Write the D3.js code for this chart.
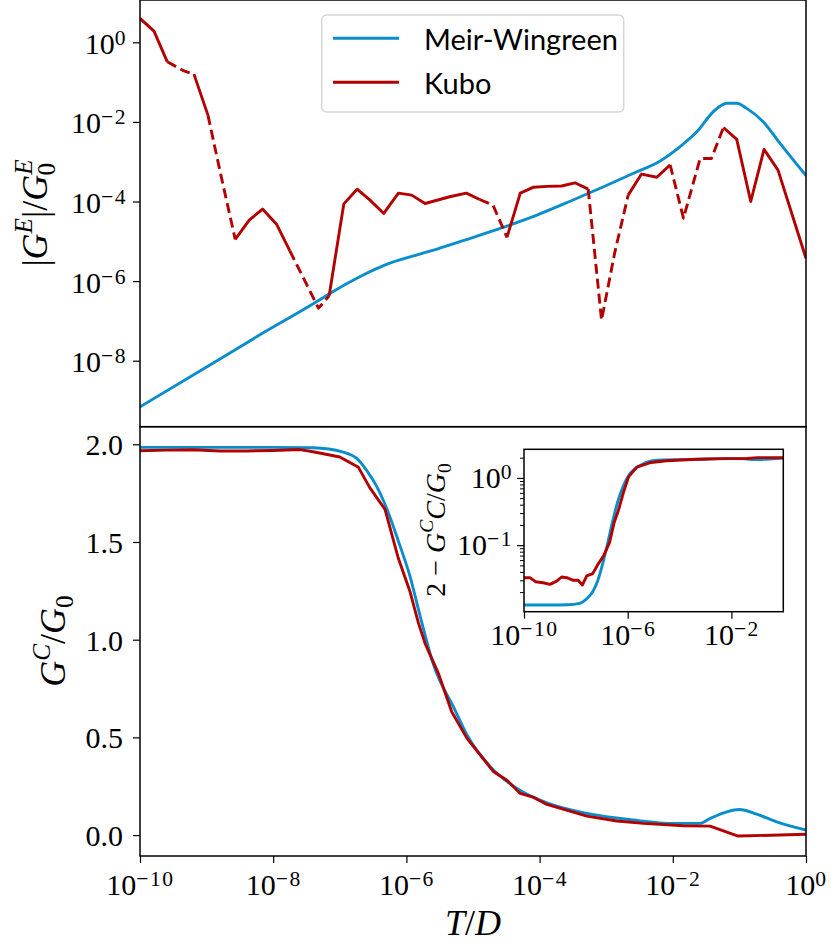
<!DOCTYPE html>
<html>
<head>
<meta charset="utf-8">
<script src="https://cdn.jsdelivr.net/npm/d3@7"></script>
<style>
  body { margin: 0; background: #fff; }
  text { font-family: "Liberation Serif", serif; fill: #000; }
</style>
</head>
<body>
<svg id="display"></svg>
<script>
/*
 *  Data
 */
// top panel: Meir-Wingreen |G^E|/G0^E  (log10 T/D, log10 value)
var mwTopLogT  = [-10, -9.0, -8.2, -7.35, -7.15, -6.7, -6.25, -5.8, -5.55, -5.05, -4.55, -4.04, -3.55, -3.04,
                  -2.59, -2.19, -1.89, -1.64, -1.39, -1.19, -1.04, -0.89, -0.64, -0.39, 0];
var mwTopLogGE = [-9.16, -8.16, -7.35, -6.52, -6.31, -5.89, -5.55, -5.32, -5.2, -4.93, -4.65, -4.34, -4.0, -3.63,
                  -3.29, -2.98, -2.62, -2.25, -1.74, -1.53, -1.53, -1.66, -2.0, -2.54, -3.35];

// top panel: Kubo |G^E|/G0^E, sign of G^E (negative parts are drawn dashed)
var kuboTopLogT  = [-10, -9.79, -9.59, -9.34, -9.19, -8.98, -8.78, -8.57, -8.36, -8.16, -7.95, -7.75, -7.32, -7.16,
                    -6.94, -6.74, -6.55, -6.34, -6.12, -5.92, -5.72, -5.35, -5.1, -4.9, -4.7, -4.49, -4.29, -4.09,
                    -3.89, -3.67, -3.47, -3.27, -3.07, -2.87, -2.67, -2.47, -2.24, -2.04, -1.84, -1.59, -1.42,
                    -1.24, -1.04, -0.83, -0.63, -0.42, 0];
var kuboTopLogGE = [0.6, 0.28, -0.49, -0.72, -0.8, -1.83, -3.38, -4.95, -4.47, -4.19, -4.57, -5.24, -6.68, -6.37,
                    -4.06, -3.69, -3.96, -4.3, -3.79, -3.84, -4.05, -3.88, -3.79, -3.95, -4.09, -4.9, -3.79, -3.64,
                    -3.62, -3.61, -3.53, -3.69, -6.98, -5.27, -3.84, -3.31, -3.39, -3.08, -4.42, -2.92, -2.92,
                    -2.14, -2.44, -4.0, -2.69, -3.21, -5.43];
var kuboTopSign  = [1, 1, 1, -1, 1, 1, -1, 1, 1, 1, 1, 1, -1, 1,
                    1, 1, 1, 1, 1, 1, 1, 1, 1, 1, -1, 1, 1, 1,
                    1, 1, 1, 1, -1, -1, 1, 1, 1, 1, -1, -1, -1,
                    1, 1, 1, 1, 1, 1];

// bottom panel: G^C/G0
var mwBotLogT = [-10, -9, -8, -7.4, -6.95, -6.72, -6.6, -6.45, -6.3, -6.1, -5.95, -5.8, -5.6, -5.27, -5.09,
                 -4.74, -4.34, -3.89, -3.29, -2.59, -1.99, -1.59, -1.44, -1.19, -1.0, -0.74, -0.44, 0];
var mwBotGC   = [1.984, 1.984, 1.984, 1.982, 1.96, 1.92, 1.868, 1.787, 1.675, 1.484, 1.329, 1.13, 0.879, 0.64, 0.512,
                 0.35, 0.239, 0.165, 0.111, 0.077, 0.06, 0.06, 0.085, 0.119, 0.131, 0.107, 0.068, 0.026];
var kuboBotLogT = [-10, -9.6, -9.2, -8.8, -8.4, -8.0, -7.6, -7.4, -7.0, -6.72, -6.55, -6.32, -6.12, -5.95, -5.82,
                   -5.72, -5.52, -5.32, -5.09, -4.69, -4.49, -4.29, -4.09, -3.89, -3.29, -2.84, -2.44, -1.84,
                   -1.44, -1.02, 0];
var kuboBotGC   = [1.967, 1.97, 1.972, 1.966, 1.966, 1.968, 1.973, 1.962, 1.935, 1.882, 1.778, 1.666, 1.415, 1.251,
                   1.086, 0.981, 0.828, 0.631, 0.495, 0.324, 0.281, 0.213, 0.193, 0.157, 0.097, 0.072, 0.06, 0.048,
                   0.046, -0.005, 0.004];

// inset: 2 - G^C/G0
var mwInLogT = [-10, -9, -8.3, -7.9, -7.74, -7.55, -7.35, -7.16, -6.97, -6.78, -6.59, -6.39, -6.16, -5.95,
                -5.5, -4.86, -3.3, -2.0, -1.6, -1.2, -1.0, -0.75, -0.4, 0];
var mwIn     = [0.0129, 0.0129, 0.013, 0.0135, 0.0143, 0.0164, 0.0202, 0.0292, 0.052, 0.104, 0.219, 0.436, 0.778, 1.1,
                1.55, 1.84, 1.9, 1.94, 1.94, 1.88, 1.87, 1.89, 1.93, 1.97];
var kuboInLogT = [-10, -9.77, -9.56, -9.26, -9.0, -8.74, -8.55, -8.35, -8.1, -7.91, -7.75, -7.58, -7.35, -7.13,
                  -6.93, -6.7, -6.52, -6.36, -6.16, -5.97, -5.65, -5.1, -4.5, -3.3, -2.4, -1.4, -1.0, 0];
var kuboIn     = [0.0328, 0.0328, 0.0286, 0.0276, 0.0261, 0.0292, 0.0336, 0.0328, 0.03, 0.03, 0.0255, 0.0348, 0.0377,
                  0.0532, 0.0693, 0.11, 0.219, 0.328, 0.617, 1.035, 1.45, 1.7, 1.8, 1.9, 1.94, 1.95, 2.005, 1.996];

// tick values
var xTicks = [1e-10, 1e-8, 1e-6, 1e-4, 1e-2, 1e0];
var topYTicks = [1e0, 1e-2, 1e-4, 1e-6, 1e-8];
var botYTicks = [0, 0.5, 1.0, 1.5, 2.0];
var inXTicks = [1e-10, 1e-6, 1e-2];
var inYTicks = [1e-1, 1e0];
var inYMinor = [0.02, 0.03, 0.04, 0.05, 0.06, 0.07, 0.08, 0.09, 0.2, 0.3, 0.4, 0.5, 0.6, 0.7, 0.8, 0.9, 2];

var seriesNames = ["Meir-Wingreen", "Kubo"];

/*
 *  Layout
 */
var width = 831, height = 948;
var left = 140, right = 806;
var topY0 = 0, split = 426.7, botY1 = 856;
var ins = {left: 524, right: 783.3, top: 449.3, bottom: 611.7};

var blue = "#0a8dcd", red = "#b30000";
var lw = 2.9;
var tickFont = 30, labelFont = 36;

var svg = d3.select("#display")
  .attr("width", width)
  .attr("height", height);

// scales
var x = d3.scaleLog().domain([1e-10, 1]).range([left, right]);
var yTop = d3.scaleLog().domain([Math.pow(10, -9.658), Math.pow(10, 1.063)]).range([split, topY0]);
var yBot = d3.scaleLinear().domain([-0.107, 2.09]).range([botY1, split]);
var xIn = d3.scaleLog().domain([1e-10, 1]).range([ins.left, ins.right]);
var yIn = d3.scaleLog().domain([Math.pow(10, -1.99), Math.pow(10, 0.426)]).range([ins.bottom, ins.top]);

function pow10(v) { return Math.pow(10, v); }

// clip regions
var defs = svg.append("defs");
function clip(id, x0, y0, x1, y1) {
  defs.append("clipPath").attr("id", id)
    .append("rect").attr("x", x0).attr("y", y0).attr("width", x1 - x0).attr("height", y1 - y0);
}
clip("clipTop", left, topY0, right, split);
clip("clipBot", left, split, right, botY1);
clip("clipIn", ins.left, ins.top, ins.right, ins.bottom);

// superscript tick labels 10^n
function powLabels(g, size) {
  g.selectAll(".tick text").each(function(d) {
    var e = Math.round(Math.log10(d));
    var t = d3.select(this).text(null);
    t.append("tspan").text("10");
    t.append("tspan").attr("dy", -0.3 * size).attr("font-size", size * 0.72)
      .attr("letter-spacing", 1.5)
      .text(e < 0 ? "\u2212" + (-e) : e);
  });
}

function styleAxis(g) {
  g.select(".domain").remove();
  g.selectAll(".tick line").attr("stroke", "#000").attr("stroke-width", 1.2);
  g.selectAll(".tick text").attr("font-size", tickFont).attr("font-family", "Liberation Serif");
}

// math-ish text with sub/superscripts
function mathText(sel, parts, size) {
  var off = 0;
  parts.forEach(function(p) {
    var target = p.sup ? -0.42 * size : (p.sub ? 0.22 * size : 0);
    var ts = sel.append("tspan").text(p.t)
      .attr("font-size", (p.sup || p.sub) ? size * 0.7 : size)
      .attr("font-style", p.it ? "italic" : "normal")
      .attr("dy", target - off);
    if(p.dx) ts.attr("dx", p.dx);
    off = target;
  });
}

function linePath(xs, ys, smooth) {
  return d3.line()
    .x(function(d) { return xs(d[0]); })
    .y(function(d) { return ys(d[1]); })
    .curve(smooth ? d3.curveMonotoneX : d3.curveLinear);
}

/*
 *  Top panel
 */
var gTop = svg.append("g").attr("clip-path", "url(#clipTop)");

var mwTop = mwTopLogT.map(function(t, i) { return [pow10(t), pow10(mwTopLogGE[i])]; });
gTop.append("path").datum(mwTop)
  .attr("d", linePath(x, yTop, true))
  .attr("fill", "none").attr("stroke", blue).attr("stroke-width", lw).attr("stroke-linejoin", "round");

// kubo: split into solid / dashed runs by sign
var kuboTop = kuboTopLogT.map(function(t, i) { return [pow10(t), pow10(kuboTopLogGE[i]), kuboTopSign[i]]; });
var runs = [], cur = null;
for(var i = 0; i < kuboTop.length - 1; i++) {
  var dashed = kuboTop[i][2] < 0 || kuboTop[i + 1][2] < 0;
  if(!cur || cur.dashed != dashed) {
    cur = {dashed: dashed, pts: [kuboTop[i]]};
    runs.push(cur);
  }
  cur.pts.push(kuboTop[i + 1]);
}
gTop.selectAll(".kubo").data(runs).enter().append("path")
  .attr("class", "kubo")
  .attr("d", function(r) { return linePath(x, yTop)(r.pts); })
  .attr("fill", "none").attr("stroke", red).attr("stroke-width", lw)
  .attr("stroke-linejoin", "round")
  .attr("stroke-dasharray", function(r) { return r.dashed ? "10,5" : null; });

var axTopY = svg.append("g").attr("transform", "translate(" + left + ",0)")
  .call(d3.axisLeft(yTop).tickValues(topYTicks).tickSize(7));
styleAxis(axTopY);
powLabels(axTopY, tickFont);
axTopY.selectAll(".tick text").attr("x", -13).attr("dy", 11);

// frame
svg.append("rect").attr("x", left).attr("y", topY0).attr("width", right - left).attr("height", split - topY0)
  .attr("fill", "none").attr("stroke", "#000").attr("stroke-width", 1.5);

var lblTop = svg.append("text")
  .attr("transform", "translate(47,213) rotate(-90)")
  .attr("text-anchor", "middle");
mathText(lblTop, [{t: "|"}, {t: "G", it: true}, {t: "E", it: true, sup: true}, {t: "|/"},
                  {t: "G", it: true}, {t: "E", it: true, sup: true}, {t: "0", sub: true, dx: -16}], labelFont);

// legend
var leg = svg.append("g");
leg.append("rect").attr("x", 321.7).attr("y", 15).attr("width", 302).attr("height", 97).attr("rx", 5)
  .attr("fill", "#fff").attr("fill-opacity", 0.8).attr("stroke", "#d6d6d6").attr("stroke-width", 1.5);
[blue, red].forEach(function(c, i) {
  var yy = 38.3 + i * 44;
  leg.append("line").attr("x1", 333).attr("x2", 399).attr("y1", yy).attr("y2", yy)
    .attr("stroke", c).attr("stroke-width", lw);
  leg.append("text").attr("x", 424).attr("y", yy + 11.5)
    .style("font-family", "Lato, 'Open Sans', sans-serif").attr("font-size", 29)
    .text(seriesNames[i]);
});

/*
 *  Bottom panel
 */
var gBot = svg.append("g").attr("clip-path", "url(#clipBot)");
var mwBot = mwBotLogT.map(function(t, i) { return [pow10(t), mwBotGC[i]]; });
var kuboBot = kuboBotLogT.map(function(t, i) { return [pow10(t), kuboBotGC[i]]; });
gBot.append("path").datum(mwBot).attr("d", linePath(x, yBot, true))
  .attr("fill", "none").attr("stroke", blue).attr("stroke-width", lw).attr("stroke-linejoin", "round");
gBot.append("path").datum(kuboBot).attr("d", linePath(x, yBot))
  .attr("fill", "none").attr("stroke", red).attr("stroke-width", lw).attr("stroke-linejoin", "round");

var axBotY = svg.append("g").attr("transform", "translate(" + left + ",0)")
  .call(d3.axisLeft(yBot).tickValues(botYTicks).tickSize(7).tickFormat(d3.format(".1f")));
styleAxis(axBotY);
axBotY.selectAll(".tick text").attr("x", -17).attr("dy", 10.5);

var axBotX = svg.append("g").attr("transform", "translate(0," + botY1 + ")")
  .call(d3.axisBottom(x).tickValues(xTicks).tickSize(7));
styleAxis(axBotX);
powLabels(axBotX, tickFont);
axBotX.selectAll(".tick text").attr("y", 39).attr("dy", 0);

svg.append("rect").attr("x", left).attr("y", split).attr("width", right - left).attr("height", botY1 - split)
  .attr("fill", "none").attr("stroke", "#000").attr("stroke-width", 1.5);

var lblBot = svg.append("text")
  .attr("transform", "translate(65,641) rotate(-90)")
  .attr("text-anchor", "middle");
mathText(lblBot, [{t: "G", it: true}, {t: "C", it: true, sup: true}, {t: "/"},
                  {t: "G", it: true}, {t: "0", sub: true}], labelFont);

var lblX = svg.append("text").attr("x", 473).attr("y", 935).attr("text-anchor", "middle");
mathText(lblX, [{t: "T", it: true}, {t: "/"}, {t: "D", it: true}], labelFont);

/*
 *  Inset
 */
svg.append("rect").attr("x", ins.left).attr("y", ins.top)
  .attr("width", ins.right - ins.left).attr("height", ins.bottom - ins.top).attr("fill", "#fff");

var gIn = svg.append("g").attr("clip-path", "url(#clipIn)");
var mwInPts = mwInLogT.map(function(t, i) { return [pow10(t), mwIn[i]]; });
var kuboInPts = kuboInLogT.map(function(t, i) { return [pow10(t), kuboIn[i]]; });
gIn.append("path").datum(mwInPts).attr("d", linePath(xIn, yIn, true))
  .attr("fill", "none").attr("stroke", blue).attr("stroke-width", lw).attr("stroke-linejoin", "round");
gIn.append("path").datum(kuboInPts).attr("d", linePath(xIn, yIn))
  .attr("fill", "none").attr("stroke", red).attr("stroke-width", lw).attr("stroke-linejoin", "round");

var axInX = svg.append("g").attr("transform", "translate(0," + ins.bottom + ")")
  .call(d3.axisBottom(xIn).tickValues(inXTicks).tickSize(7));
styleAxis(axInX);
powLabels(axInX, tickFont);
axInX.selectAll(".tick text").attr("y", 33).attr("dy", 0);

var axInYm = svg.append("g").attr("transform", "translate(" + ins.left + ",0)")
  .call(d3.axisLeft(yIn).tickValues(inYMinor).tickSize(4).tickFormat(""));
styleAxis(axInYm);
axInYm.selectAll(".tick line").attr("stroke-width", 1);

var axInY = svg.append("g").attr("transform", "translate(" + ins.left + ",0)")
  .call(d3.axisLeft(yIn).tickValues(inYTicks).tickSize(7));
styleAxis(axInY);
powLabels(axInY, tickFont);
axInY.selectAll(".tick text").attr("x", -11).attr("dy", 9.5);

svg.append("rect").attr("x", ins.left).attr("y", ins.top)
  .attr("width", ins.right - ins.left).attr("height", ins.bottom - ins.top)
  .attr("fill", "none").attr("stroke", "#000").attr("stroke-width", 1.5);

var lblIn = svg.append("text")
  .attr("transform", "translate(445,530) rotate(-90)")
  .attr("text-anchor", "middle");
mathText(lblIn, [{t: "2 \u2212 "}, {t: "G", it: true}, {t: "C", it: true, sup: true}, {t: "C", it: true},
                 {t: "/"}, {t: "G", it: true}, {t: "0", sub: true}], 28);
</script>
</body>
</html>
